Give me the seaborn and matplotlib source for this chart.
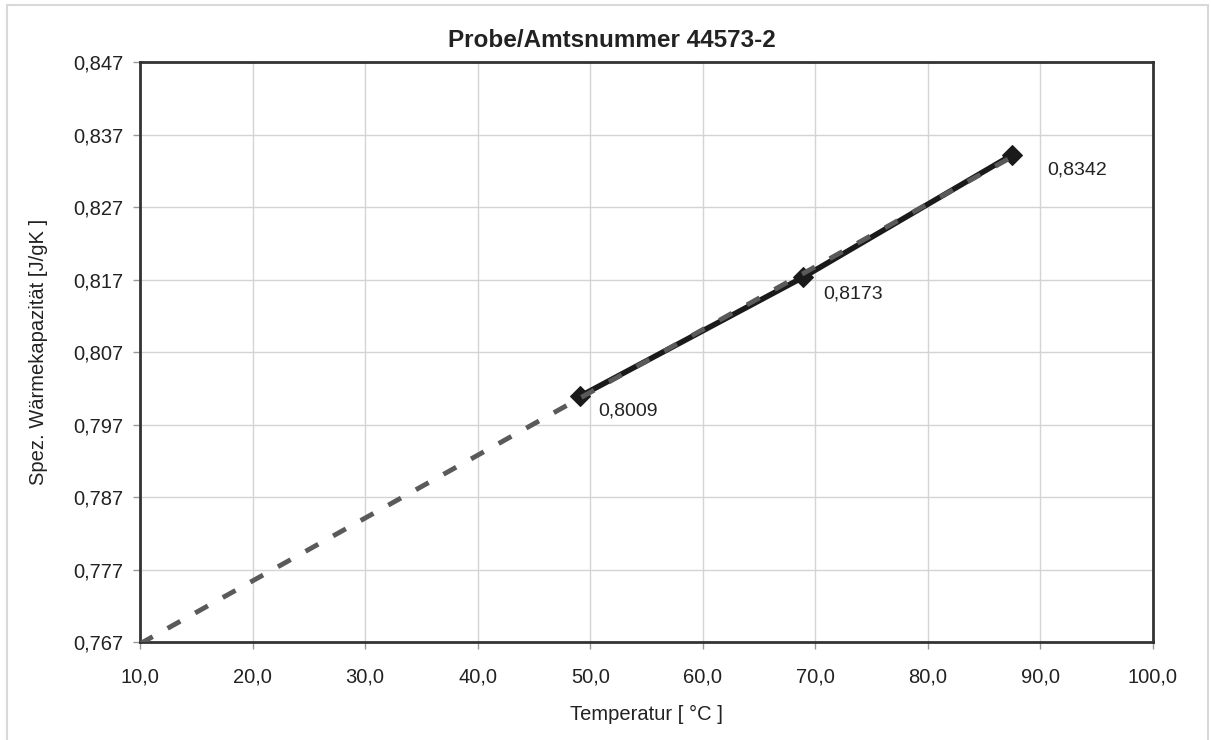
import numpy as np
import pandas as pd
import matplotlib
matplotlib.use("Agg")
import matplotlib.pyplot as plt
from matplotlib.patches import Rectangle
from matplotlib.ticker import FuncFormatter
import seaborn as sns

# Messwerte (Temperatur in °C, spez. Wärmekapazität in J/gK)
temperatur = [49.1, 68.9, 87.5]
waermekapazitaet = [0.8009, 0.8173, 0.8342]

x_ticks = [10, 20, 30, 40, 50, 60, 70, 80, 90, 100]
y_ticks = [0.767, 0.777, 0.787, 0.797, 0.807, 0.817, 0.827, 0.837, 0.847]
trend_start = 10.0

title = "Probe/Amtsnummer 44573-2"
x_label = "Temperatur [ °C ]"
y_label = "Spez. Wärmekapazität [J/gK ]"

df = pd.DataFrame({"T": temperatur, "cp": waermekapazitaet})

# lineare Trendlinie
slope, intercept = np.polyfit(df["T"], df["cp"], 1)
trend = pd.DataFrame({"T": [trend_start, temperatur[-1]]})
trend["cp"] = slope * trend["T"] + intercept

sns.set_style("white")
plt.rcParams["font.family"] = ["Liberation Sans", "DejaVu Sans"]

fig = plt.figure(figsize=(12.11, 7.40), dpi=100)
ax = fig.add_axes([0.1156, 0.1324, 0.8365, 0.7838])

sns.lineplot(data=df, x="T", y="cp", ax=ax, color="#1a1a1a", linewidth=4,
             marker="D", markersize=10.5, markeredgecolor="#1a1a1a", zorder=3)
sns.lineplot(data=trend, x="T", y="cp", ax=ax, color="#5a5a5a", linewidth=3.5,
             linestyle=(0, (3, 3.5)), zorder=4, clip_on=True)

offsets = [(18, -15), (20, -17), (35, -15)]
for (t, c), off in zip(zip(temperatur, waermekapazitaet), offsets):
    ax.annotate(f"{c:.4f}".replace(".", ","), (t, c), xytext=off,
                textcoords="offset pixels", ha="left", va="center",
                fontsize=14, color="#222222")

ax.set_xlim(10, 100)
ax.set_ylim(0.767, 0.847)
ax.set_xticks(x_ticks)
ax.set_yticks(y_ticks)
ax.xaxis.set_major_formatter(FuncFormatter(lambda v, p: f"{v:.1f}".replace(".", ",")))
ax.yaxis.set_major_formatter(FuncFormatter(lambda v, p: f"{v:.3f}".replace(".", ",")))
ax.grid(True, color="#d4d4d4", linewidth=1)
ax.tick_params(axis="both", direction="out", length=5, width=1, color="#999999",
               labelsize=14.5, labelcolor="#222222", left=True, bottom=True)
ax.tick_params(axis="x", pad=13)
ax.tick_params(axis="y", pad=7)
for s in ax.spines.values():
    s.set_color("#333333")
    s.set_linewidth(2)

ax.set_title(title, fontsize=17.5, fontweight="bold", color="#222222", pad=10.5, x=0.466)
ax.set_xlabel(x_label, fontsize=14.5, color="#222222")
ax.set_ylabel(y_label, fontsize=14.5, color="#222222")
ax.xaxis.set_label_coords(0.5, -0.1086)
ax.yaxis.set_label_coords(-0.0908, 0.5)

fig.patches.append(Rectangle((7 / 1211, -0.05), 1201 / 1211, 1.05 - 5 / 740,
                             transform=fig.transFigure, fill=False,
                             edgecolor="#d9d9d9", linewidth=1.5))

fig.savefig("out.png", dpi=100)
